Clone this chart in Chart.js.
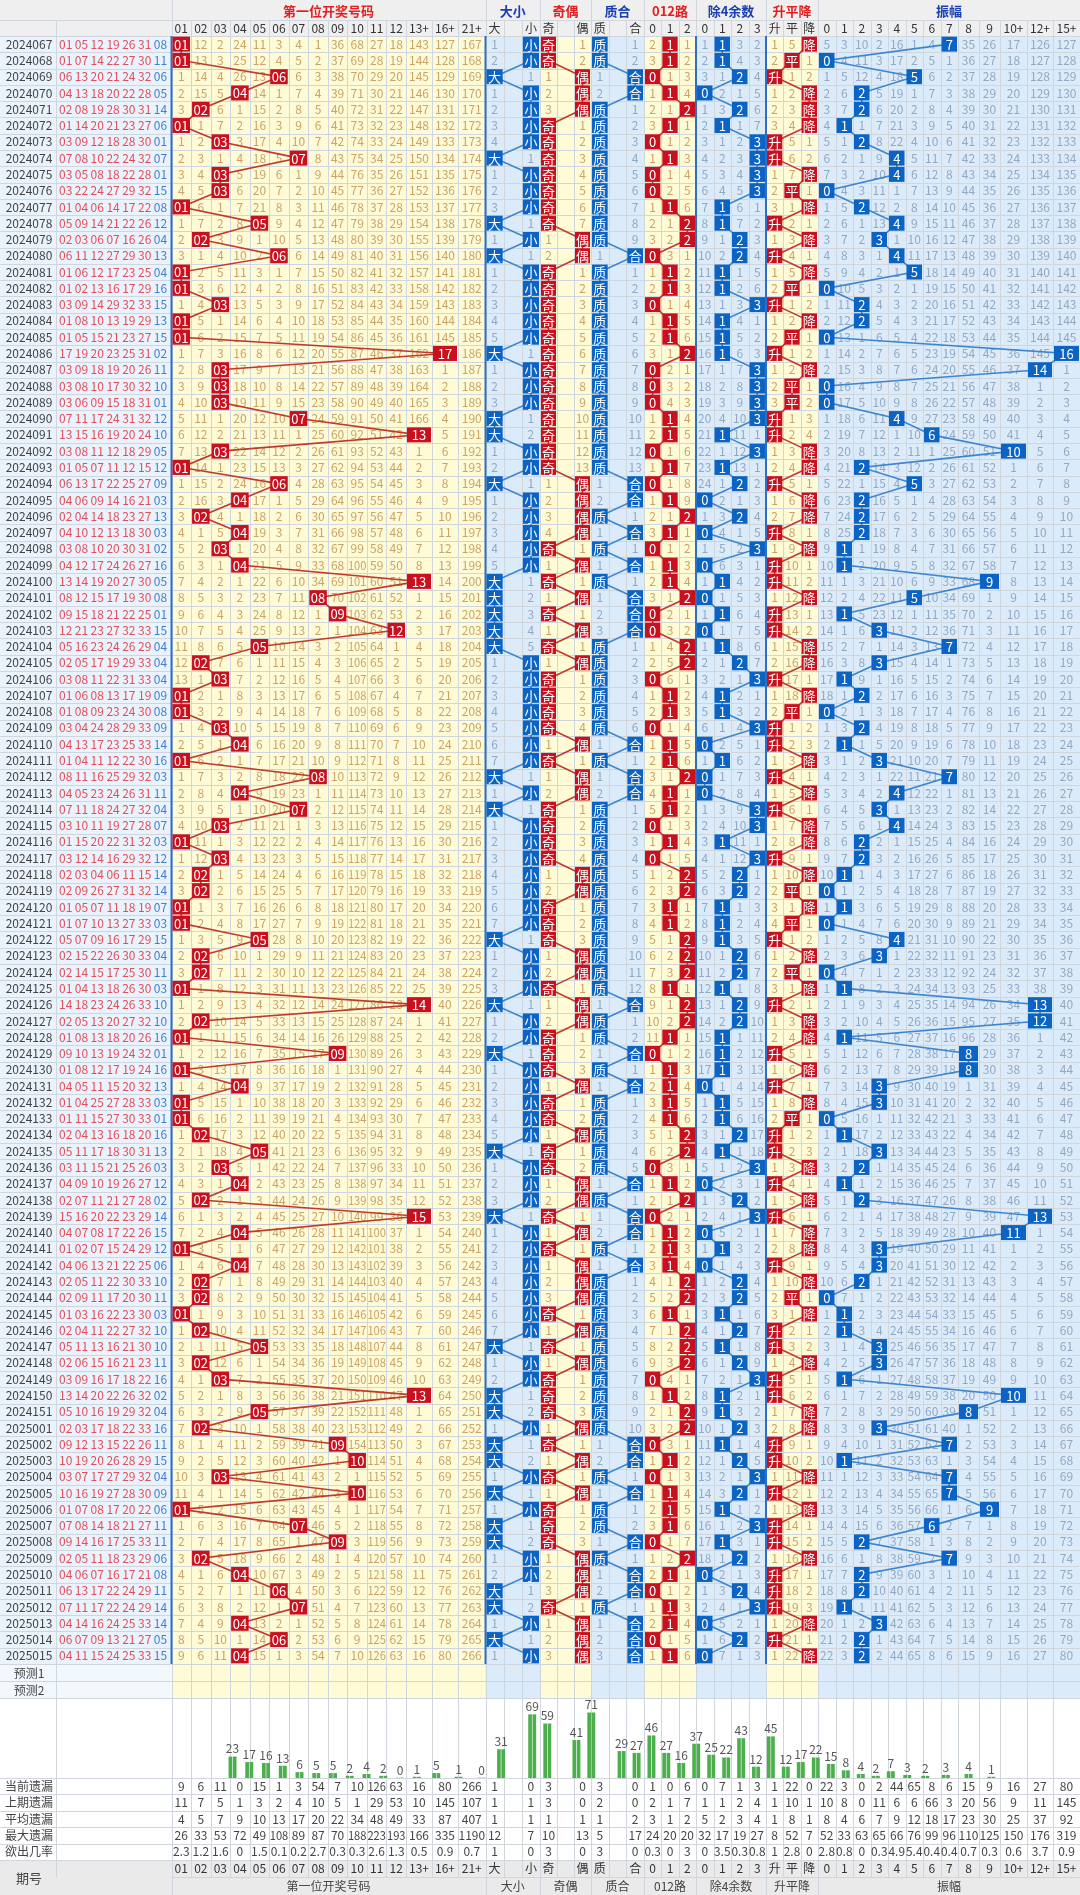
<!DOCTYPE html>
<html>
<head>
<meta charset="utf-8">
<script src="https://cdn.jsdelivr.net/npm/chart.js@4"></script>
<style>
  body { margin: 0; background: #fff; }
  #wrap { position: relative; width: 1080px; height: 1895px; }
  #main { position: absolute; left: 0; top: 0; }
  #bars { position: absolute; left: 0; top: 1700px; }
</style>
</head>
<body>
<div id="wrap">
  <canvas id="main" width="1080" height="1895"></canvas>
  <canvas id="bars" width="1080" height="78"></canvas>
</div>
<script>
// ---- data ----
const draws = [
  '01 05 12 19 26 31 08', '01 07 14 22 27 30 11', '06 13 20 21 24 32 06', '04 13 18 20 22 28 05',
  '02 08 19 28 30 31 14', '01 14 20 21 23 27 06', '03 09 12 18 28 30 01', '07 08 10 22 24 32 07',
  '03 05 08 18 22 28 01', '03 22 24 27 29 32 15', '01 04 06 14 17 22 08', '05 09 14 21 22 26 12',
  '02 03 06 07 16 26 04', '06 11 12 27 29 30 13', '01 06 12 17 23 25 04', '01 02 13 16 17 29 16',
  '03 09 14 29 32 33 15', '01 08 10 13 19 29 13', '01 05 15 21 23 27 15', '17 19 20 23 25 31 02',
  '03 09 18 19 20 26 11', '03 08 10 17 30 32 10', '03 06 09 15 18 31 01', '07 11 17 24 31 32 12',
  '13 15 16 19 20 24 10', '03 08 11 12 18 29 05', '01 05 07 11 12 15 12', '06 13 17 22 25 27 09',
  '04 06 09 14 16 21 03', '02 04 14 18 23 27 13', '04 10 12 13 18 30 03', '03 08 10 20 30 31 02',
  '04 12 17 24 26 27 16', '13 14 19 20 27 30 05', '08 12 15 17 19 30 08', '09 15 18 21 22 25 01',
  '12 21 23 27 32 33 15', '05 16 23 24 26 29 04', '02 05 17 19 29 33 04', '03 08 11 22 31 33 04',
  '01 06 08 13 17 19 09', '01 08 09 23 24 30 08', '03 04 24 28 29 33 09', '04 13 17 23 25 33 14',
  '01 04 11 12 22 30 16', '08 11 16 25 29 32 03', '04 05 23 24 26 31 11', '07 11 18 24 27 32 04',
  '03 10 11 19 27 28 07', '01 15 20 22 31 32 03', '03 12 14 16 29 32 12', '02 03 04 06 11 15 14',
  '02 09 26 27 31 32 14', '01 05 07 11 18 19 07', '01 07 10 13 27 33 03', '05 07 09 16 17 29 15',
  '02 15 22 26 30 33 04', '02 14 15 17 25 30 11', '01 04 13 18 26 30 03', '14 18 23 24 26 33 10',
  '02 05 13 20 27 32 10', '01 08 13 18 20 26 16', '09 10 13 19 24 32 01', '01 08 12 17 19 24 16',
  '04 05 11 15 20 32 13', '01 04 25 27 28 33 03', '01 11 15 27 30 33 01', '02 04 13 16 18 20 16',
  '05 11 17 18 30 31 13', '03 11 15 21 25 26 03', '04 09 10 19 26 27 12', '02 07 11 21 27 28 02',
  '15 16 20 22 23 29 14', '04 07 08 17 22 26 15', '01 02 07 15 24 29 12', '04 06 13 21 22 25 06',
  '02 05 11 22 30 33 10', '02 09 11 17 20 30 11', '01 03 16 22 23 30 03', '02 04 11 22 27 32 10',
  '05 11 13 16 21 30 10', '02 06 15 16 21 23 11', '03 09 16 17 18 22 16', '13 14 20 22 26 32 02',
  '05 10 16 19 29 32 04', '02 03 17 18 22 33 16', '09 12 13 15 22 26 11', '10 19 20 26 28 29 15',
  '03 07 17 27 29 32 04', '10 16 19 27 28 30 09', '01 07 08 17 20 22 06', '07 08 14 18 21 27 11',
  '09 14 16 17 25 33 11', '02 05 11 18 23 29 06', '04 06 07 16 17 21 08', '06 13 17 22 24 29 11',
  '07 11 17 22 24 29 14', '04 14 16 24 25 33 14', '06 07 09 13 21 27 05', '04 11 15 24 25 33 15'
];
const periods = [];
for (let p = 2024067; p <= 2024151; p++) periods.push(String(p));
for (let p = 2025001; p <= 2025015; p++) periods.push(String(p));

const firstLabels = ['01','02','03','04','05','06','07','08','09','10','11','12','13+','16+','21+'];
const sizeLabels = ['大', '', '小'];
const oddLabels = ['奇', '', '偶'];
const primeLabels = ['质', '', '合'];
const r3Labels = ['0', '1', '2'];
const r4Labels = ['0', '1', '2', '3'];
const trendLabels = ['升', '平', '降'];
const ampLabels = ['0','1','2','3','4','5','6','7','8','9','10+','12+','15+'];

// omission counts before the first row
const seedFirst = [0, 11, 1, 23, 10, 2, 3, 0, 35, 67, 26, 17, 142, 126, 166];
const seedSize = [0, 0, 0];
const seedOdd = [0, 0, 0];
const seedPrime = [0, 0, 0];
const seedR3 = [1, 0, 0];
const seedR4 = [0, 0, 2, 1];
const seedTrend = [0, 4, 0];
const seedAmp = [4, 2, 9, 1, 15, 0, 3, 0, 34, 25, 16, 125, 126];
const prevFirstValue = 8;

const barCounts = [23,17,16,13,6,5,5,2,4,2,0,1,5,1,0, 31,null,69, 59,null,41, 71,null,29,
  27,46,27, 16,37,25,22, 43,12,45, 12,17,22,15,8,4,2,7,3,2,3,4,1];
const statNames = ['当前遗漏', '上期遗漏', '平均遗漏', '最大遗漏', '欲出几率'];
const statCur = [9,6,11,0,15,1,3,54,7,10,126,63,16,80,266, 1,'',0, 3,'',0, 3,'',0, 1,0,6, 0,7,1,3, 1,22,0, 22,3,0,2,44,65,8,6,15,9,16,27,80];
const statLast = [11,7,5,1,3,2,4,10,5,1,29,53,10,145,107, 1,'',1, 3,'',0, 2,'',0, 2,1,7, 1,1,2,4, 1,10,1, 10,8,0,11,6,6,66,3,20,56,9,11,145];
const statAvg = [4,5,7,9,10,13,17,20,22,34,48,49,33,87,407, 1,'',1, 1,'',1, 1,'',2, 3,1,2, 5,2,3,4, 1,8,1, 8,4,6,7,9,12,18,17,23,30,25,37,92];
const statMax = [26,33,53,72,49,108,89,87,70,188,223,193,166,335,1190, 12,'',7, 10,'',13, 5,'',17, 24,20,20, 32,17,19,27, 8,52,7, 52,33,63,65,66,76,99,96,110,125,150,176,319];
const statOdds = [2.3,1.2,1.6,0,1.5,0.1,0.2,2.7,0.3,0.3,2.6,1.3,0.5,0.9,0.7, 1,'',0, 3,'',0, 3,'',0, 0.3,0,3, 0,3.5,0.3,0.8, 1,2.8,0, 2.8,0.8,0,0.3,4.9,5.4,0.4,0.4,0.7,0.3,0.6,3.7,0.9];
const statRows = [statCur, statLast, statAvg, statMax, statOdds];

// ---- layout ----
const ROW0 = 36, RH = 16.28, N = draws.length;
const rowY = i => ROW0 + RH * (i + 0.5);
function even(a, b, n) { const e = []; for (let k = 0; k <= n; k++) e.push(a + (b - a) * k / n); return e; }
const firstEdges = even(171.5, 406, 12).concat([432, 458, 485.5]);
const ampEdges = even(818, 958, 8).concat([979, 1000, 1027, 1053, 1080]);
const sections = [
  { name: '第一位开奖号码', labels: firstLabels, edges: firstEdges, bg: '#fffbd6', head: '#e02020', box: '#c8101e', line: '#c0392b', txt: '#c9a46a', seed: seedFirst },
  { name: '大小', labels: sizeLabels, edges: even(485.5, 540, 3), bg: '#dcebfa', head: '#1a3fb0', box: '#0b63c4', line: '#3d86cf', txt: '#93a9c2', seed: seedSize },
  { name: '奇偶', labels: oddLabels, edges: even(540, 591, 3), bg: '#fffbd6', head: '#e02020', box: '#c8101e', line: '#c0392b', txt: '#c9a46a', seed: seedOdd },
  { name: '质合', labels: primeLabels, edges: even(591, 644, 3), bg: '#dcebfa', head: '#1a3fb0', box: '#0b63c4', line: '#3d86cf', txt: '#93a9c2', seed: seedPrime },
  { name: '012路', labels: r3Labels, edges: even(644, 696, 3), bg: '#fffbd6', head: '#e02020', box: '#c8101e', line: '#c0392b', txt: '#c9a46a', seed: seedR3 },
  { name: '除4余数', labels: r4Labels, edges: even(696, 766, 4), bg: '#dcebfa', head: '#1a3fb0', box: '#0b63c4', line: '#3d86cf', txt: '#93a9c2', seed: seedR4 },
  { name: '升平降', labels: trendLabels, edges: even(766, 818, 3), bg: '#fffbd6', head: '#e02020', box: '#c8101e', line: '#c0392b', txt: '#c9a46a', seed: seedTrend },
  { name: '振幅', labels: ampLabels, edges: ampEdges, bg: '#dcebfa', head: '#1a3fb0', box: '#0b63c4', line: '#3d86cf', txt: '#93a9c2', seed: seedAmp }
];
sections.forEach(s => s.centers = s.labels.map((_, k) => (s.edges[k] + s.edges[k + 1]) / 2));

// ---- per-row classification ----
const primes = [1, 2, 3, 5, 7, 11, 13, 17, 19, 23, 29, 31];
const firstVals = draws.map(d => parseInt(d.split(' ')[0], 10));
sections.forEach(s => s.hits = []);
firstVals.forEach((v, i) => {
  const prev = i === 0 ? prevFirstValue : firstVals[i - 1];
  const amp = Math.abs(v - prev);
  sections[0].hits.push({ col: v <= 12 ? v - 1 : v <= 15 ? 12 : v <= 20 ? 13 : 14, text: String(v).padStart(2, '0') });
  sections[1].hits.push(v >= 5 ? { col: 0, text: '大' } : { col: 2, text: '小' });
  sections[2].hits.push(v % 2 ? { col: 0, text: '奇' } : { col: 2, text: '偶' });
  sections[3].hits.push(primes.includes(v) ? { col: 0, text: '质' } : { col: 2, text: '合' });
  sections[4].hits.push({ col: v % 3, text: String(v % 3) });
  sections[5].hits.push({ col: v % 4, text: String(v % 4) });
  const t = v > prev ? 0 : v === prev ? 1 : 2;
  sections[6].hits.push({ col: t, text: trendLabels[t] });
  sections[7].hits.push({ col: amp < 10 ? amp : amp < 12 ? 10 : amp < 15 ? 11 : 12, text: String(amp) });
});
// omission table
sections.forEach(s => {
  const c = s.seed.slice();
  s.miss = s.hits.map(h => c.map((_, k) => {
    if (k === h.col) { c[k] = 0; return null; }
    c[k] += 1; return c[k];
  }));
});

// ---- drawing helpers ----
const FONT = '"Noto Sans CJK SC", "Noto Sans", sans-serif';
function txt(ctx, s, x, y, color, size, maxW, bold) {
  ctx.fillStyle = color;
  ctx.font = (bold ? 'bold ' : '') + size + 'px ' + FONT;
  ctx.textAlign = 'center';
  ctx.textBaseline = 'middle';
  if (maxW) ctx.fillText(s, x, y, maxW); else ctx.fillText(s, x, y);
}
const TABLE_END = ROW0 + RH * N;     // 1664
const PRED_END = TABLE_END + 34;     // 1698
const BAR_END = 1778;
const STAT_H = 16.4;
const FOOT = BAR_END + STAT_H * 5;   // 1860

const tablePlugin = {
  id: 'table',
  beforeDatasetsDraw(chart) {
    const ctx = chart.ctx;
    ctx.save();
    // header
    ctx.fillStyle = '#efefef'; ctx.fillRect(0, 0, 1080, ROW0);
    ctx.fillStyle = '#eaeaea'; ctx.fillRect(0, FOOT, 1080, 1895 - FOOT);
    ctx.fillStyle = '#eaf3fc'; ctx.fillRect(0, ROW0, 171.5, TABLE_END - ROW0);
    ctx.fillStyle = '#f3f8fd'; ctx.fillRect(0, TABLE_END, 171.5, PRED_END - TABLE_END);
    sections.forEach(s => {
      const x0 = s.edges[0], x1 = s.edges[s.edges.length - 1];
      ctx.fillStyle = s.bg; ctx.fillRect(x0, ROW0, x1 - x0, PRED_END - ROW0);
      txt(ctx, s.name, (x0 + x1) / 2, 11, s.head, 13, 0, true);
      txt(ctx, s.name, (x0 + x1) / 2, 1886, '#444', 12);
      s.labels.forEach((l, k) => {
        txt(ctx, l, s.centers[k], 28, '#333', 12, s.edges[k + 1] - s.edges[k] - 1);
        txt(ctx, l, s.centers[k], 1868, '#333', 12, s.edges[k + 1] - s.edges[k] - 1);
      });
    });
    // grid
    ctx.lineWidth = 1;
    ctx.strokeStyle = '#cfd6de';
    for (let i = 0; i <= N; i++) {
      const y = Math.round(ROW0 + RH * i) + 0.5;
      ctx.beginPath(); ctx.moveTo(0, y); ctx.lineTo(1080, y); ctx.stroke();
    }
    [TABLE_END + 17, PRED_END, BAR_END, FOOT].forEach(y => {
      ctx.beginPath(); ctx.moveTo(0, y + 0.5); ctx.lineTo(1080, y + 0.5); ctx.stroke();
    });
    for (let r = 1; r < 5; r++) {
      const y = Math.round(BAR_END + STAT_H * r) + 0.5;
      ctx.beginPath(); ctx.moveTo(0, y); ctx.lineTo(1080, y); ctx.stroke();
    }
    ctx.beginPath(); ctx.moveTo(171.5, FOOT + 17.5); ctx.lineTo(1080, FOOT + 17.5); ctx.stroke();
    ctx.beginPath(); ctx.moveTo(0, 20.5); ctx.lineTo(1080, 20.5); ctx.stroke();
    const vlines = [56, 171.5];
    sections.forEach(s => s.edges.forEach(e => vlines.push(e)));
    vlines.forEach(x => {
      ctx.beginPath(); ctx.moveTo(Math.round(x) + 0.5, 20); ctx.lineTo(Math.round(x) + 0.5, FOOT + 17); ctx.stroke();
    });
    sections.forEach(s => {
      const x = Math.round(s.edges[0]) + 0.5;
      ctx.beginPath(); ctx.moveTo(x, 0); ctx.lineTo(x, 1895); ctx.stroke();
    });
    // thick blue separators
    ctx.strokeStyle = '#2f6fc2'; ctx.lineWidth = 2;
    [171.5, 485.5, 696, 766].forEach(x => {
      ctx.beginPath(); ctx.moveTo(x, ROW0); ctx.lineTo(x, TABLE_END); ctx.stroke();
    });
    // rows
    for (let i = 0; i < N; i++) {
      const y = rowY(i);
      txt(ctx, periods[i], 29, y, '#444', 12, 52);
      const parts = draws[i].split(' ');
      ctx.font = '12px ' + FONT; ctx.textBaseline = 'middle'; ctx.textAlign = 'left';
      parts.forEach((p, k) => {
        ctx.fillStyle = k < 6 ? '#e0505c' : '#3f7fd4';
        ctx.fillText(p, 59 + k * 15.8, y, 15);
      });
      sections.forEach(s => {
        s.miss[i].forEach((m, k) => {
          if (m === null || s.labels[k] === '') return;
          txt(ctx, String(m), s.centers[k], y, s.txt, 12, s.edges[k + 1] - s.edges[k] - 1);
        });
      });
    }
    txt(ctx, '预测1', 29, TABLE_END + 9, '#444', 12);
    txt(ctx, '预测2', 29, TABLE_END + 26, '#444', 12);
    txt(ctx, '期号', 29, 1878, '#444', 13);
    // stats
    const cols = [];
    sections.forEach(s => s.centers.forEach((c, k) => cols.push({ c, w: s.edges[k + 1] - s.edges[k] })));
    statRows.forEach((row, r) => {
      const y = BAR_END + STAT_H * (r + 0.5);
      txt(ctx, statNames[r], 29, y, '#444', 12, 54);
      row.forEach((v, k) => { if (v !== '') txt(ctx, String(v), cols[k].c, y, '#444', 12, cols[k].w - 1); });
    });
    ctx.restore();
  },
  afterDatasetsDraw(chart) {
    const ctx = chart.ctx;
    ctx.save();
    sections.forEach((s, si) => {
      chart.getDatasetMeta(si).data.forEach((pt, i) => {
        const h = s.hits[i], k = h.col;
        const w = s.edges[k + 1] - s.edges[k] - 2;
        ctx.fillStyle = s.box;
        ctx.fillRect(pt.x - w / 2, pt.y - 7.5, w, 15);
        txt(ctx, h.text, pt.x, pt.y + 0.5, '#fff', 13, w, false);
      });
    });
    ctx.restore();
  }
};

new Chart(document.getElementById('main'), {
  type: 'line',
  data: {
    datasets: sections.map(s => ({
      data: s.hits.map((h, i) => ({ x: s.centers[h.col], y: rowY(i) })),
      borderColor: s.line,
      borderWidth: 1.6,
      pointRadius: 0,
      tension: 0
    }))
  },
  options: {
    responsive: false,
    animation: false,
    layout: { padding: 0 },
    plugins: { legend: { display: false }, tooltip: { enabled: false } },
    scales: {
      x: { type: 'linear', min: 0, max: 1080, display: false },
      y: { type: 'linear', min: 0, max: 1895, reverse: true, display: false }
    }
  },
  plugins: [tablePlugin]
});

// ---- bottom frequency bars ----
const barCenters = [];
sections.forEach(s => s.centers.forEach(c => barCenters.push(c)));
const barPts = off => barCounts.map((v, k) => ({ x: barCenters[k] + off, y: v })).filter(p => p.y !== null);
const barLabelPlugin = {
  id: 'barLabels',
  afterDatasetsDraw(chart) {
    const ctx = chart.ctx, xs = chart.scales.x, ys = chart.scales.y;
    barCounts.forEach((v, k) => {
      if (v === null) return;
      txt(ctx, String(v), xs.getPixelForValue(barCenters[k]), ys.getPixelForValue(v) - 8, '#555', 12);
    });
  }
};
new Chart(document.getElementById('bars'), {
  type: 'bar',
  data: {
    datasets: [
      { data: barPts(-2.5), backgroundColor: '#4cae4c', barThickness: 3, grouped: false },
      { data: barPts(2.5), backgroundColor: '#4cae4c', barThickness: 3, grouped: false }
    ]
  },
  options: {
    responsive: false,
    animation: false,
    layout: { padding: 0 },
    plugins: { legend: { display: false }, tooltip: { enabled: false } },
    scales: {
      x: { type: 'linear', min: 0, max: 1080, display: false },
      y: { min: 0, max: 85, display: false }
    }
  },
  plugins: [barLabelPlugin]
});
</script>
</body>
</html>
